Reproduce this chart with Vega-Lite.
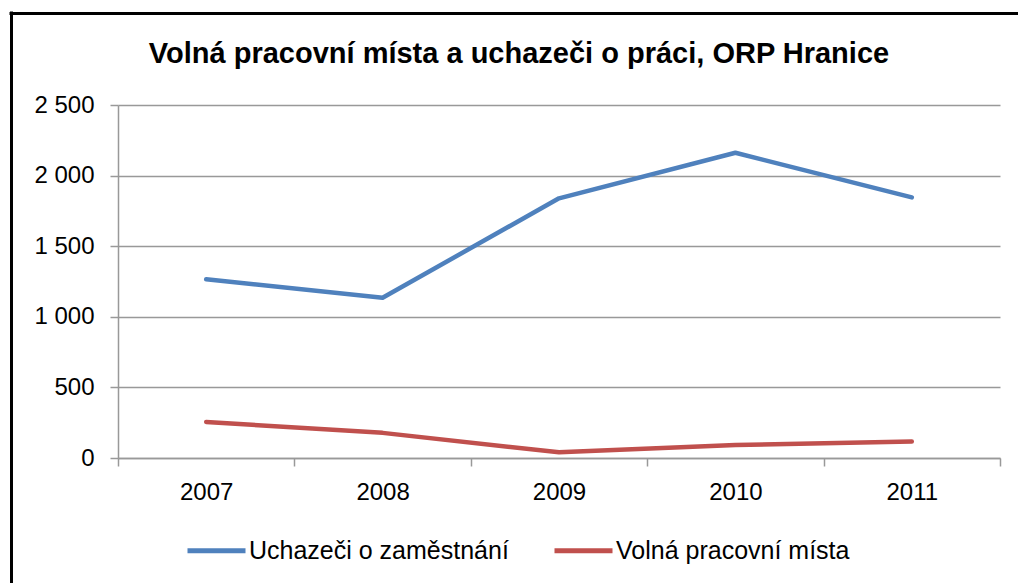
{
  "$schema": "https://vega.github.io/schema/vega-lite/v6.json",
  "width": 882,
  "height": 353,
  "autosize": "none",
  "padding": {"left": 118, "top": 105, "right": 18, "bottom": 125},
  "background": "white",
  "config": {
    "view": {"stroke": null},
    "font": "Liberation Sans"
  },
  "title": {
    "text": "Volná pracovní místa a uchazeči o práci, ORP Hranice",
    "fontSize": 29,
    "fontWeight": "bold",
    "font": "Liberation Sans",
    "color": "#000000",
    "anchor": "middle",
    "dx": -40,
    "offset": -56
  },
  "layer": [
    {
      "data": {
        "values": [
          {"year": "2007", "series": "Uchazeči o zaměstnání", "value": 1266},
          {"year": "2008", "series": "Uchazeči o zaměstnání", "value": 1135},
          {"year": "2009", "series": "Uchazeči o zaměstnání", "value": 1839},
          {"year": "2010", "series": "Uchazeči o zaměstnání", "value": 2162},
          {"year": "2011", "series": "Uchazeči o zaměstnání", "value": 1846},
          {"year": "2007", "series": "Volná pracovní místa", "value": 255},
          {"year": "2008", "series": "Volná pracovní místa", "value": 178},
          {"year": "2009", "series": "Volná pracovní místa", "value": 40},
          {"year": "2010", "series": "Volná pracovní místa", "value": 92},
          {"year": "2011", "series": "Volná pracovní místa", "value": 117}
        ]
      },
      "mark": {"type": "line", "strokeWidth": 4.5, "strokeCap": "round", "strokeJoin": "round"},
      "encoding": {
        "x": {
          "field": "year",
          "type": "ordinal",
          "scale": {"type": "band", "paddingInner": 0, "paddingOuter": 0},
          "axis": {
            "title": null,
            "labelAngle": 0,
            "labelFontSize": 24,
            "labelColor": "#000000",
            "labelPadding": 14,
            "tickBand": "extent",
            "tickSize": 8,
            "tickColor": "#999999",
            "domainColor": "#999999",
            "domainWidth": 1.5,
            "tickWidth": 1.5,
            "grid": false
          }
        },
        "y": {
          "field": "value",
          "type": "quantitative",
          "scale": {"domain": [0, 2500], "nice": false},
          "axis": {
            "title": null,
            "values": [0, 500, 1000, 1500, 2000, 2500],
            "labelExpr": "replace(format(datum.value, ','), ',', ' ')",
            "labelFontSize": 24,
            "labelColor": "#000000",
            "labelPadding": 16,
            "tickSize": 8,
            "tickColor": "#999999",
            "tickWidth": 1.5,
            "domainColor": "#999999",
            "domainWidth": 1.5,
            "grid": true,
            "gridColor": "#999999",
            "gridWidth": 1.5
          }
        },
        "color": {
          "field": "series",
          "type": "nominal",
          "scale": {
            "domain": ["Uchazeči o zaměstnání", "Volná pracovní místa"],
            "range": ["#4F81BD", "#C0504D"]
          },
          "legend": {
            "title": null,
            "orient": "none",
            "direction": "horizontal",
            "legendX": 67,
            "legendY": 414,
            "symbolType": "stroke",
            "symbolSize": 3364,
            "symbolStrokeWidth": 5,
            "labelFontSize": 25,
            "labelColor": "#000000",
            "labelOffset": 1,
            "columnPadding": 35,
            "labelLimit": 400
          }
        }
      }
    },
    {
      "data": {"values": [{"fa": 0, "fb": 0}]},
      "mark": {"type": "point", "opacity": 0},
      "encoding": {
        "x": {
          "field": "fa",
          "type": "quantitative",
          "scale": {"domain": [0, 1], "range": [-109, 1000]},
          "axis": {
            "orient": "top",
            "offset": 92,
            "title": null,
            "labels": false,
            "ticks": false,
            "grid": false,
            "domainColor": "#000000",
            "domainWidth": 3
          }
        },
        "y": {
          "field": "fb",
          "type": "quantitative",
          "scale": {"domain": [0, 1], "range": [600, -94]},
          "axis": {
            "orient": "left",
            "offset": 107,
            "title": null,
            "labels": false,
            "ticks": false,
            "grid": false,
            "domainColor": "#000000",
            "domainWidth": 3
          }
        }
      }
    }
  ],
  "resolve": {"scale": {"x": "independent", "y": "independent"}}
}
